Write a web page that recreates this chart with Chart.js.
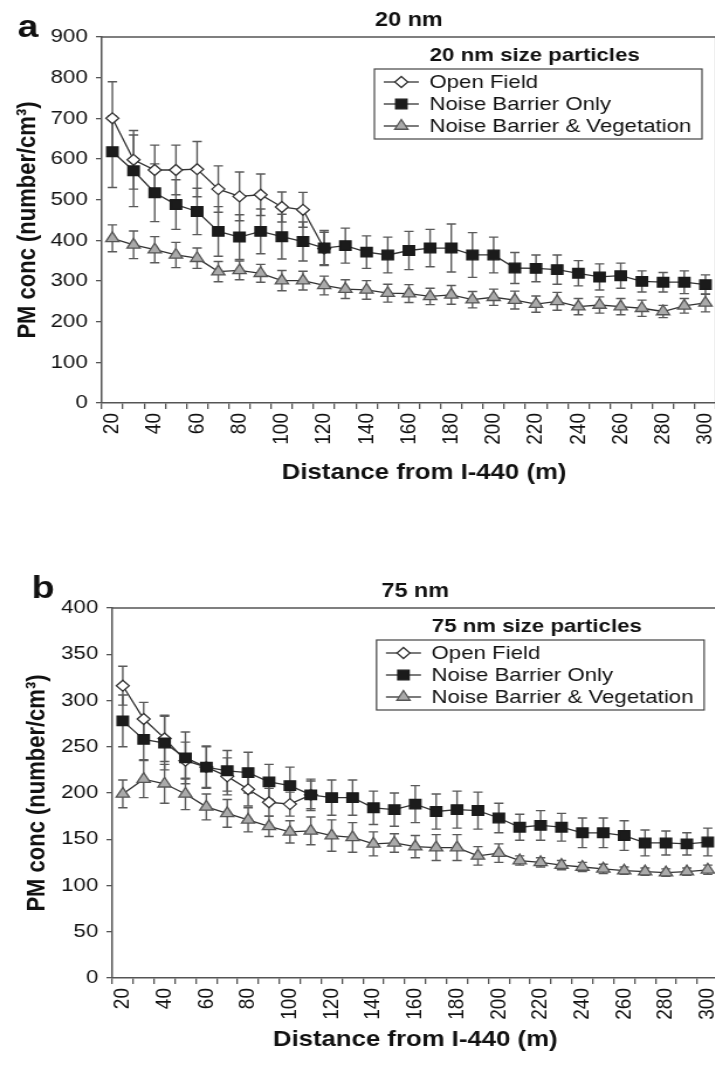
<!DOCTYPE html>
<html>
<head>
<meta charset="utf-8">
<script src="https://cdn.jsdelivr.net/npm/chart.js"></script>
<style>
  html, body { margin: 0; padding: 0; background: #fff; overflow: hidden; width: 715px; height: 1066px; }
  canvas { position: absolute; left: 0; transform: scaleX(1.17); transform-origin: 0 0; }
  #chartA { top: 0; }
  #chartB { top: 570px; }
</style>
</head>
<body>
<canvas id="chartA" width="632" height="500"></canvas>
<canvas id="chartB" width="632" height="496"></canvas>
<script>
// distance from I-440 (m)
const distances = ['20','30','40','50','60','70','80','90','100','110','120','130','140','150','160',
  '170','180','190','200','210','220','230','240','250','260','270','280','290','300'];
const seriesNames = ['Open Field', 'Noise Barrier Only', 'Noise Barrier & Vegetation'];

// 20 nm particles
const openField20 = [700, 598, 573, 573, 575, 526, 508, 512, 482, 475, 380,
  null, null, null, null, null, null, null, null, null, null, null, null, null, null, null, null, null, null];
const openField20Err = [90, 72, 61, 61, 68, 57, 60, 51, 37, 43, 40,
  null, null, null, null, null, null, null, null, null, null, null, null, null, null, null, null, null, null];
const barrier20 = [618, 571, 517, 488, 471, 422, 408, 422, 409, 397, 381, 387, 371, 364, 375,
  381, 381, 364, 364, 332, 331, 328, 319, 310, 313, 299, 297, 297, 291];
const barrier20Err = [88, 88, 71, 61, 57, 61, 55, 55, 55, 48, 43, 43, 40, 44, 47,
  46, 59, 55, 44, 38, 33, 36, 31, 32, 31, 26, 24, 28, 24];
const vegetation20 = [405, 389, 377, 364, 356, 323, 326, 319, 301, 301, 289, 280, 278, 270, 269,
  262, 266, 254, 260, 253, 243, 250, 237, 241, 237, 233, 225, 239, 246];
const vegetation20Err = [33, 34, 32, 31, 25, 25, 23, 22, 25, 23, 23, 23, 23, 22, 22,
  20, 23, 20, 20, 22, 20, 22, 20, 20, 20, 20, 15, 18, 22];

// 75 nm particles
const openField75 = [316, 280, 259, 235, 228, 218, 204, 190, 188, 198,
  null, null, null, null, null, null, null, null, null, null, null, null, null, null, null, null, null, null, null];
const openField75Err = [21, 18, 25, 20, 22, 20, 18, 15, 13, 15,
  null, null, null, null, null, null, null, null, null, null, null, null, null, null, null, null, null, null, null];
const barrier75 = [278, 258, 254, 238, 228, 224, 222, 212, 208, 198, 195, 195, 184, 182, 188,
  180, 182, 181, 173, 163, 165, 163, 157, 157, 154, 146, 146, 145, 147];
const barrier75Err = [28, 22, 29, 28, 23, 22, 22, 19, 20, 17, 19, 19, 18, 18, 20,
  19, 20, 20, 16, 14, 16, 15, 16, 16, 16, 14, 13, 12, 15];
const vegetation75 = [199, 215, 210, 199, 185, 178, 171, 164, 158, 159, 154, 152, 145, 146, 142,
  141, 141, 132, 135, 127, 125, 122, 120, 118, 116, 115, 114, 115, 117];
const vegetation75Err = [15, 20, 21, 17, 14, 15, 13, 11, 12, 15, 17, 16, 13, 10, 12,
  14, 14, 10, 10, 5, 5, 5, 5, 5, 4, 4, 4, 4, 5];

Chart.defaults.font.family = '"Liberation Sans", Arial, sans-serif';
Chart.defaults.color = '#111';

const styles = [
  { pointStyle: 'rectRot', pointRadius: 5.5, pointBackgroundColor: '#fff', pointBorderColor: '#333', order: 3 },
  { pointStyle: 'rect', pointRadius: 6.8, pointBackgroundColor: '#1b1b1b', pointBorderColor: '#1b1b1b', order: 2 },
  { pointStyle: 'triangle', pointRadius: 6.5, pointBackgroundColor: '#aaa', pointBorderColor: '#555', order: 1 }
];

// error bars drawn from the y scale
const errorBars = {
  id: 'errorBars',
  beforeDatasetsDraw(chart) {
    const ctx = chart.ctx, y = chart.scales.y;
    ctx.save();
    ctx.strokeStyle = '#5a5a5a';
    ctx.lineWidth = 1.4;
    chart.data.datasets.forEach((ds, i) => {
      const meta = chart.getDatasetMeta(i);
      ds.errors.forEach((e, j) => {
        const v = ds.data[j];
        if (v == null || e == null) return;
        const x = meta.data[j].x;
        const top = y.getPixelForValue(v + e), bot = y.getPixelForValue(v - e);
        ctx.beginPath();
        ctx.moveTo(x, top); ctx.lineTo(x, bot);
        ctx.moveTo(x - 4, top); ctx.lineTo(x + 4, top);
        ctx.moveTo(x - 4, bot); ctx.lineTo(x + 4, bot);
        ctx.stroke();
      });
    });
    ctx.restore();
  }
};

function marker(ctx, st, x, y) {
  ctx.fillStyle = st.pointBackgroundColor;
  ctx.strokeStyle = st.pointBorderColor;
  ctx.lineWidth = 1.3;
  if (Chart.helpers && Chart.helpers.drawPoint) {
    Chart.helpers.drawPoint(ctx, { pointStyle: st.pointStyle, radius: st.pointRadius, rotation: 0, borderWidth: 1.3 }, x, y);
  } else {
    ctx.beginPath(); ctx.arc(x, y, st.pointRadius, 0, Math.PI * 2); ctx.fill(); ctx.stroke();
  }
}

// frame, panel letter, titles and boxed legend
const decor = {
  id: 'decor',
  afterDraw(chart, args, opts) {
    const ctx = chart.ctx, a = chart.chartArea;
    ctx.save();
    ctx.strokeStyle = '#555';
    ctx.lineWidth = 1.5;
    ctx.beginPath();
    ctx.moveTo(a.left, a.top); ctx.lineTo(a.right, a.top); ctx.lineTo(a.right, a.bottom);
    ctx.stroke();

    ctx.fillStyle = '#111';
    ctx.textBaseline = 'alphabetic';
    ctx.font = 'bold 32px "Liberation Sans", Arial, sans-serif';
    ctx.textAlign = 'left';
    ctx.fillText(opts.letter, opts.letterX, opts.letterY);

    ctx.font = 'bold 20px "Liberation Sans", Arial, sans-serif';
    ctx.textAlign = 'center';
    ctx.fillText(opts.title, (a.left + a.right) / 2, a.top - 11);

    ctx.font = 'bold 22px "Liberation Sans", Arial, sans-serif';
    ctx.textBaseline = 'middle';
    ctx.fillText('Distance from I-440 (m)', (a.left + a.right) / 2 + opts.xTitleShift, opts.xTitleY);

    // legend
    const bx = a.right - 292, by = a.top + 32, bw = 280, bh = 70;
    ctx.textBaseline = 'alphabetic';
    ctx.font = 'bold 19px "Liberation Sans", Arial, sans-serif';
    ctx.fillText(opts.legendTitle, bx + 137, a.top + 24);
    ctx.lineWidth = 1.2;
    ctx.strokeStyle = '#444';
    ctx.strokeRect(bx, by, bw, bh);
    ctx.font = '19px "Liberation Sans", Arial, sans-serif';
    ctx.textAlign = 'left';
    ctx.textBaseline = 'middle';
    chart.data.datasets.forEach((ds, i) => {
      const ry = by + 13 + i * 22;
      ctx.strokeStyle = '#333';
      ctx.lineWidth = 1.3;
      ctx.beginPath(); ctx.moveTo(bx + 8, ry); ctx.lineTo(bx + 38, ry); ctx.stroke();
      marker(ctx, styles[i], bx + 23, ry);
      ctx.fillStyle = '#111';
      ctx.fillText(ds.label, bx + 47, ry + 1);
    });
    ctx.restore();
  }
};

function makePanel(id, series, errs, p) {
  new Chart(document.getElementById(id), {
    type: 'line',
    data: {
      labels: distances,
      datasets: series.map((d, i) => Object.assign({
        label: seriesNames[i],
        data: d,
        errors: errs[i],
        borderColor: '#333',
        borderWidth: 1.3,
        pointBorderWidth: 1.3,
        tension: 0,
        spanGaps: false
      }, styles[i]))
    },
    options: {
      responsive: false,
      devicePixelRatio: 1,
      animation: false,
      events: [],
      layout: { padding: { top: p.top, right: p.right, left: 0, bottom: 0 } },
      plugins: {
        legend: { display: false },
        tooltip: { enabled: false },
        decor: {
          letter: p.letter, letterX: p.letterX, letterY: p.letterY, title: p.title,
          legendTitle: p.legendTitle, xTitleShift: p.xTitleShift, xTitleY: p.xTitleY
        }
      },
      scales: {
        x: {
          type: 'category',
          offset: true,
          afterFit: s => { s.height = p.xHeight; },
          grid: { offset: true, drawOnChartArea: false, tickLength: 6, color: '#555', lineWidth: 1.3 },
          border: { display: true, color: '#555', width: 1.5 },
          ticks: {
            autoSkip: false, minRotation: 90, maxRotation: 90, padding: 4,
            font: { size: 19 }, color: '#111',
            callback: (v, i) => (i % 2 === 0 ? distances[i] : '')
          }
        },
        y: {
          min: 0, max: p.yMax,
          afterFit: s => { s.width = p.yWidth; },
          grid: { drawOnChartArea: false, tickLength: 5, color: '#555', lineWidth: 1.3 },
          border: { display: true, color: '#555', width: 1.5 },
          ticks: { stepSize: p.yStep, padding: 7, font: { size: 19 }, color: '#111' },
          title: {
            display: true, text: 'PM conc (number/cm³)',
            font: { size: 22, weight: 'bold' }, color: '#111',
            padding: { top: p.yTitlePad, bottom: 0 }
          }
        }
      }
    },
    plugins: [errorBars, decor]
  });
}

makePanel('chartA',
  [openField20, barrier20, vegetation20],
  [openField20Err, barrier20Err, vegetation20Err],
  { top: 37, right: 20, xHeight: 97, yWidth: 87, yMax: 900, yStep: 100, yTitlePad: 11,
    xTitleShift: 13, xTitleY: 473,
    letter: 'a', letterX: 15, letterY: 37, title: '20 nm', legendTitle: '20 nm size particles' });

makePanel('chartB',
  [openField75, barrier75, vegetation75],
  [openField75Err, barrier75Err, vegetation75Err],
  { top: 38, right: 17, xHeight: 88, yWidth: 96, yMax: 400, yStep: 50, yTitlePad: 19,
    xTitleShift: 0, xTitleY: 470,
    letter: 'b', letterX: 27, letterY: 28, title: '75 nm', legendTitle: '75 nm size particles' });
</script>
</body>
</html>
